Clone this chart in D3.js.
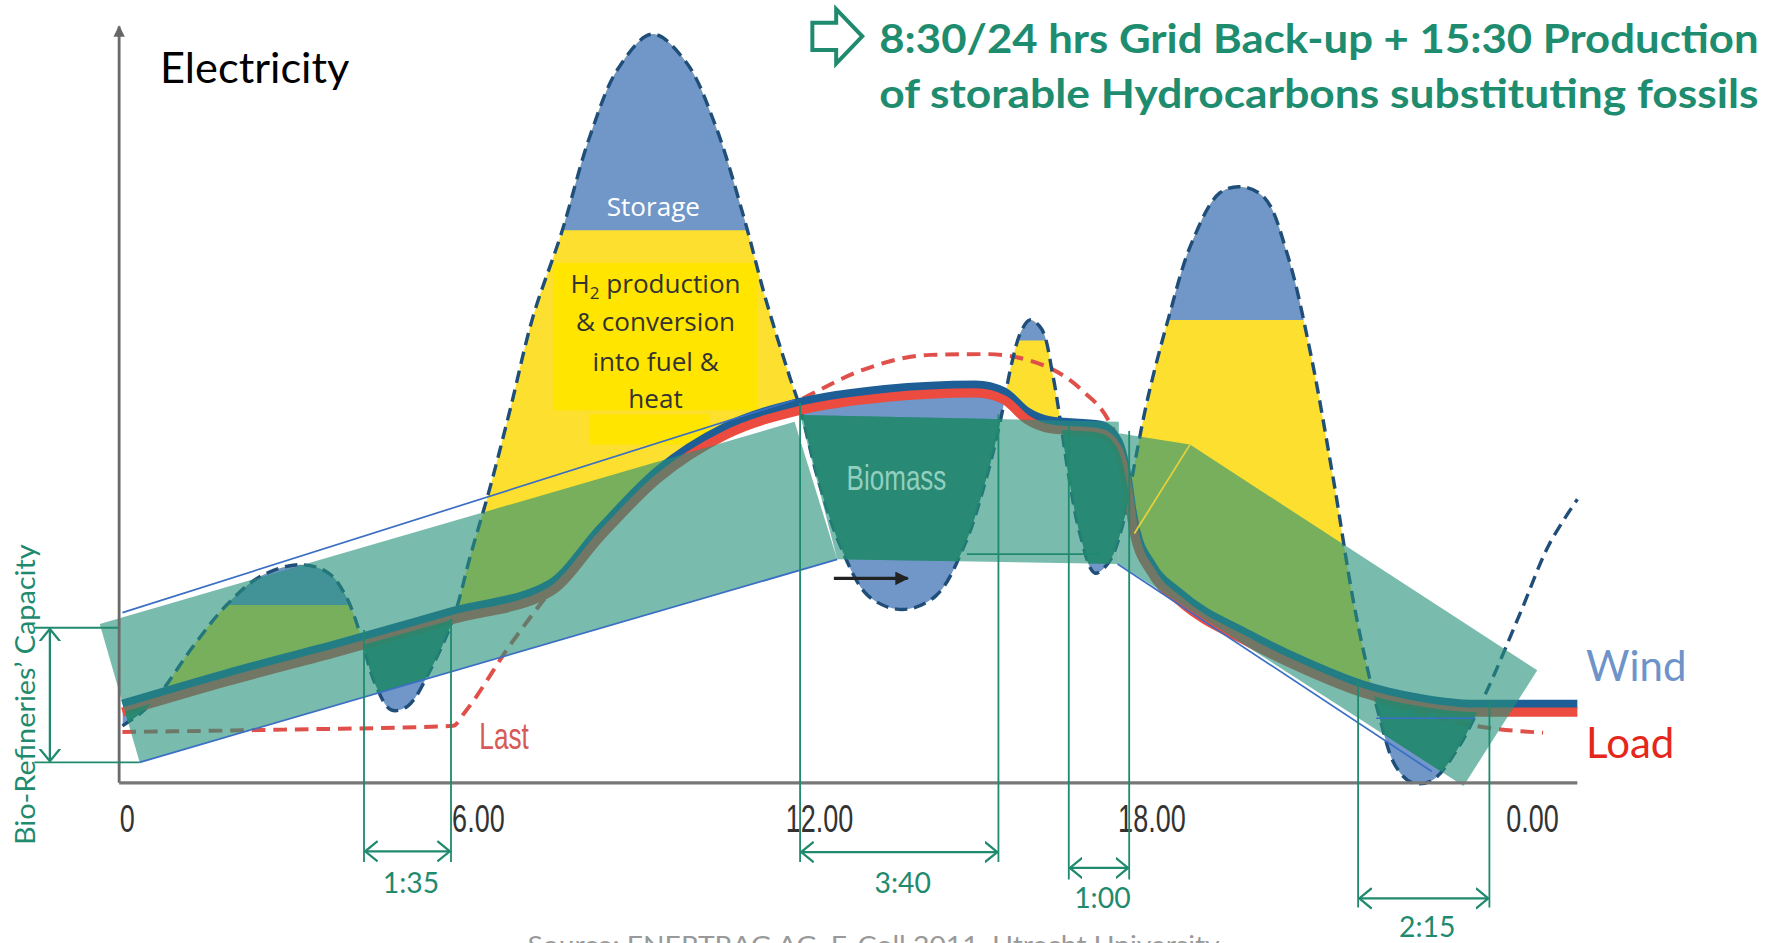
<!DOCTYPE html>
<html>
<head>
<meta charset="utf-8">
<script src="https://cdn.jsdelivr.net/npm/d3@7"></script>
<style>
  html, body { margin: 0; padding: 0; background: #fff; }
  svg { display: block; }
</style>
</head>
<body>
<div id="chart"></div>
<script>
// x = hour of the day, y = electricity level (0-100, arbitrary units)
const hourTicks = [0, 6, 12, 18, 24];
const tickLabels = ["0", "6.00", "12.00", "18.00", "0.00"];

// wind production (dashed curve)
const wind = [
  [0.06, 7.5], [0.41, 9.3], [0.72, 11.6], [1.33, 17.9], [1.94, 23.4], [2.56, 27.2],
  [3.27, 28.7], [3.78, 27.6], [4.09, 24.6], [4.36, 19.4], [4.60, 13.4], [4.91, 9.6],
  [5.21, 10.1], [5.62, 14.9], [6.03, 21.6], [6.34, 29.9], [6.69, 38.8], [7.06, 49.3],
  [7.46, 61.2], [7.98, 72.4], [8.49, 85.1], [9.00, 94.0], [9.61, 98.5], [10.22, 94.8],
  [10.74, 86.6], [11.25, 74.6], [11.66, 63.4], [12.07, 53.7], [12.27, 49.3], [12.58, 40.3],
  [12.99, 31.3], [13.50, 24.6], [14.11, 22.8], [14.72, 24.6], [15.24, 31.3], [15.64, 40.3],
  [15.89, 47.8], [16.09, 55.2], [16.26, 59.4], [16.42, 60.9], [16.63, 59.7], [16.83, 53.7],
  [16.97, 47.5], [17.12, 40.3], [17.32, 32.8], [17.59, 27.6], [17.85, 29.1], [18.09, 34.3],
  [18.26, 41.8], [18.47, 50.7], [18.79, 61.2], [19.14, 70.9], [19.58, 77.6], [19.93, 78.4],
  [20.28, 76.9], [20.63, 69.4], [20.98, 56.7], [21.33, 40.3], [21.68, 22.4], [22.04, 9.0],
  [22.30, 2.2], [22.56, 0.0], [22.86, 0.3], [23.26, 4.5], [23.70, 11.9], [24.23, 22.4],
  [24.67, 31.3], [25.11, 37.3]
];
// surplus is only shaded up to the last wind trough
const surplusEnd = 22.56;

// grid load (thick line)
const load = [
  [0.06, 9.3], [1.94, 13.3], [3.99, 17.3], [6.03, 21.5], [7.77, 25.1], [8.69, 32.5],
  [9.71, 40.0], [10.94, 45.8], [12.27, 49.0], [13.80, 50.7], [15.44, 51.3], [15.95, 50.4],
  [16.36, 47.8], [16.77, 46.6], [17.69, 46.0], [18.00, 44.0], [18.14, 39.6], [18.26, 32.8],
  [18.53, 27.6], [18.96, 23.9], [20.02, 18.5], [20.89, 14.9], [21.77, 11.9], [22.65, 10.1],
  [23.53, 9.3], [25.11, 9.3]
];

// "Last" (dashed red)
const last = [
  [0.06, 6.7], [2.97, 7.0], [6.03, 7.5], [6.24, 9.3], [7.06, 18.2], [7.77, 25.1],
  [8.69, 32.5], [9.71, 40.0], [10.94, 45.8], [12.27, 50.4], [13.39, 54.3], [14.62, 56.3],
  [15.64, 56.4], [16.67, 54.9], [17.38, 51.5], [17.85, 47.5], [18.14, 41.8], [18.30, 34.3],
  [18.53, 27.6], [18.96, 23.9], [20.02, 18.5], [20.89, 14.9], [21.77, 11.6], [22.65, 9.3],
  [23.53, 7.5], [24.58, 6.6]
];

// storage share of each surplus peak (above level)
const storageCaps = [
  { from: 0.72, to: 4.40, level: 23.4 },
  { from: 6.03, to: 12.37, level: 72.7 },
  { from: 15.95, to: 17.08, level: 58.2 },
  { from: 18.35, to: 21.51, level: 60.9 }
];

// bio-refineries' capacity bands
const bioBands = [
  [[-0.35, 20.9], [12.17, 47.5], [12.94, 29.4], [0.37, 2.7]],
  [[12.27, 48.4], [18.02, 47.5], [18.02, 28.8], [12.94, 29.4]],
  [[18.02, 46.0], [19.12, 44.5], [24.49, 14.8], [23.35, -0.4], [18.02, 28.8]]
];

// thin outline strokes
const outlines = [
  { pts: [[0.06, 22.4], [12.17, 50.4]], color: "#3a6fc4" },
  { pts: [[0.37, 2.7], [12.94, 29.4]], color: "#3a6fc4" },
  { pts: [[18.0, 28.8], [22.86, 1.5]], color: "#3a6fc4" },
  { pts: [[22.0, 8.5], [23.53, 8.5]], color: "#3a6fc4" },
  { pts: [[15.28, 30.1], [17.69, 30.1]], color: "#1f8a6e" },
  { pts: [[18.26, 32.8], [19.12, 44.5]], color: "#e8d23a" }
];

// grid back-up gaps
const gaps = [
  { label: "1:35", from: 4.42, to: 5.99, tops: [20.1, 21.6], bottom: -10.4, arrow: -9.0, text: -14.5 },
  { label: "3:40", from: 12.27, to: 15.85, tops: [50.0, 48.5], bottom: -10.4, arrow: -9.1, text: -14.5 },
  { label: "1:00", from: 17.12, to: 18.18, tops: [47.0, 46.3], bottom: -12.7, arrow: -11.2, text: -16.4 },
  { label: "2:15", from: 21.72, to: 23.75, tops: [13.4, 10.7], bottom: -16.4, arrow: -15.2, text: -20.3 }
];

const capacity = { x: -1.25, top: 20.4, bottom: 2.7, from: -1.53, toTop: -0.02, toBottom: 0.37, labelX: -1.70 };

const W = 1779, H = 943;
const k = W / 1568;
const green = "#1f8a6e";
const narrow = "'Liberation Sans', Arial, sans-serif";

const x = d3.scaleLinear().domain(hourTicks).range([105, 398, 692, 985, 1327]);
const y = d3.scaleLinear().domain([0, 100]).range([690, 20]);

const svg = d3.select("#chart").append("svg").attr("width", W).attr("height", H);
const defs = svg.append("defs");
const g = svg.append("g").attr("transform", `scale(${k})`);

g.append("rect").attr("width", 1568).attr("height", 831).attr("fill", "#fff");

const px = d => x(d[0]), py = d => y(d[1]);
const windCurve = d3.curveCatmullRom.alpha(0.5);
const windLine = d3.line().x(px).y(py).curve(windCurve);
const windUnder = d3.area().x(px).y0(y(0)).y1(py).curve(windCurve);
const windOver = d3.area().x(px).y0(y(140)).y1(py).curve(windCurve);
const smoothLine = d3.line().x(px).y(py).curve(d3.curveMonotoneX);

// markers
defs.append("marker").attr("id", "chev").attr("viewBox", "0 0 12 20")
  .attr("refX", 11).attr("refY", 10).attr("markerWidth", 12).attr("markerHeight", 20)
  .attr("markerUnits", "userSpaceOnUse").attr("orient", "auto-start-reverse")
  .append("path").attr("d", "M0,1 L11,10 L0,19").attr("fill", "none")
  .attr("stroke", green).attr("stroke-width", 2);
defs.append("marker").attr("id", "tri").attr("viewBox", "0 0 10 10")
  .attr("refX", 9).attr("refY", 5).attr("markerWidth", 14).attr("markerHeight", 12)
  .attr("markerUnits", "userSpaceOnUse").attr("orient", "auto")
  .append("path").attr("d", "M0,0 L10,5 L0,10 Z").attr("fill", "#222");
defs.append("marker").attr("id", "axisTip").attr("viewBox", "0 0 10 10")
  .attr("refX", 9).attr("refY", 5).attr("markerWidth", 16).attr("markerHeight", 10)
  .attr("markerUnits", "userSpaceOnUse").attr("orient", "auto")
  .append("path").attr("d", "M0,0 L10,5 L0,10 Z").attr("fill", "#666");

// clips
defs.append("clipPath").attr("id", "aboveLoad").append("path")
  .attr("d", d3.area().x(px).y0(y(140)).y1(py).curve(d3.curveMonotoneX)(load));
defs.append("clipPath").attr("id", "belowLoad").append("path")
  .attr("d", d3.area().x(px).y0(py).y1(y(-40)).curve(d3.curveMonotoneX)(load));
defs.append("clipPath").attr("id", "surplusSpan").append("rect")
  .attr("x", 0).attr("y", 0).attr("width", x(surplusEnd)).attr("height", 831);
const bandClip = defs.append("clipPath").attr("id", "bandClip");
bioBands.forEach(b => bandClip.append("path").attr("d", d3.line()(b.map(d => [px(d), py(d)])) + "Z"));
storageCaps.forEach((c, i) => {
  defs.append("clipPath").attr("id", "cap" + i).append("rect")
    .attr("x", x(c.from)).attr("width", x(c.to) - x(c.from))
    .attr("y", y(140)).attr("height", y(c.level) - y(140));
});

// surplus wind -> H2 (yellow) and storage (blue)
g.append("g").attr("clip-path", "url(#surplusSpan)")
  .append("g").attr("clip-path", "url(#aboveLoad)")
  .append("path").attr("d", windUnder(wind)).attr("fill", "#fde02f");
storageCaps.forEach((c, i) => {
  g.append("path").attr("d", windUnder(wind)).attr("clip-path", `url(#cap${i})`).attr("fill", "#7097c8");
});
// deficit
g.append("g").attr("clip-path", "url(#belowLoad)")
  .append("path").attr("d", windOver(wind)).attr("fill", "#7097c8");

// H2 label box
g.append("rect").attr("x", x(7.83)).attr("y", y(68.4))
  .attr("width", x(11.51) - x(7.83)).attr("height", y(49.0) - y(68.4)).attr("fill", "#ffe500");
g.append("rect").attr("x", x(8.49)).attr("y", y(48.5))
  .attr("width", x(10.63) - x(8.49)).attr("height", y(44.5) - y(48.5)).attr("fill", "#ffe500");

// lines
g.append("path").attr("d", smoothLine(last)).attr("fill", "none")
  .attr("stroke", "#e0504a").attr("stroke-width", 3.5).attr("stroke-dasharray", "12,7");
g.append("path").attr("d", windLine(wind)).attr("fill", "none")
  .attr("stroke", "#1f4e79").attr("stroke-width", 3).attr("stroke-dasharray", "11,6");
g.append("path").attr("d", smoothLine(load)).attr("fill", "none")
  .attr("transform", "translate(0,-7)")
  .attr("stroke", "#1d5e96").attr("stroke-width", 8);
g.append("path").attr("d", smoothLine(load)).attr("fill", "none")
  .attr("stroke", "#ec4b40").attr("stroke-width", 8);

// capacity bands
g.append("g").selectAll("path").data(bioBands).join("path")
  .attr("d", b => d3.line()(b.map(d => [px(d), py(d)])) + "Z")
  .attr("fill", "#26917a").attr("fill-opacity", 0.62);

// biomass fill where wind is short inside the bands
g.append("g").attr("clip-path", "url(#bandClip)")
  .append("g").attr("clip-path", "url(#belowLoad)")
  .append("path").attr("d", windOver(wind)).attr("fill", "#23876d").attr("fill-opacity", 0.85);

// outlines
g.append("g").selectAll("line").data(outlines).join("line")
  .attr("x1", d => px(d.pts[0])).attr("y1", d => py(d.pts[0]))
  .attr("x2", d => px(d.pts[1])).attr("y2", d => py(d.pts[1]))
  .attr("stroke", d => d.color).attr("stroke-width", 1.5);

// biomass arrow
g.append("line").attr("x1", x(12.88)).attr("x2", x(14.21)).attr("y1", y(26.9)).attr("y2", y(26.9))
  .attr("stroke", "#222").attr("stroke-width", 3).attr("marker-end", "url(#tri)");

// axes
g.append("line").attr("x1", x(0)).attr("x2", x(0)).attr("y1", y(0)).attr("y2", y(99.5))
  .attr("stroke", "#6b6b6b").attr("stroke-width", 2.5).attr("marker-end", "url(#axisTip)");
g.append("line").attr("x1", x(0)).attr("x2", x(25.11)).attr("y1", y(0)).attr("y2", y(0))
  .attr("stroke", "#777").attr("stroke-width", 3);

const xAxis = g.append("g").attr("transform", `translate(0,${y(0)})`)
  .call(d3.axisBottom(x).tickValues(hourTicks).tickSize(0).tickFormat((d, i) => tickLabels[i]));
xAxis.select(".domain").remove();
xAxis.selectAll("text")
  .attr("text-anchor", "start").attr("y", 19)
  .attr("transform", "scale(0.7,1)")
  .attr("fill", "#333")
  .style("font-family", narrow)
  .style("font-size", "34px");

// gap dimensions
const gg = g.append("g").selectAll("g").data(gaps).join("g");
gg.append("line").attr("x1", d => x(d.from)).attr("x2", d => x(d.from))
  .attr("y1", d => y(d.tops[0])).attr("y2", d => y(d.bottom))
  .attr("stroke", green).attr("stroke-width", 1.6);
gg.append("line").attr("x1", d => x(d.to)).attr("x2", d => x(d.to))
  .attr("y1", d => y(d.tops[1])).attr("y2", d => y(d.bottom))
  .attr("stroke", green).attr("stroke-width", 1.6);
gg.append("line").attr("x1", d => x(d.from) + 1).attr("x2", d => x(d.to) - 1)
  .attr("y1", d => y(d.arrow)).attr("y2", d => y(d.arrow))
  .attr("stroke", green).attr("stroke-width", 2)
  .attr("marker-start", "url(#chev)").attr("marker-end", "url(#chev)");
gg.append("text").attr("x", d => (x(d.from) + x(d.to)) / 2 + 3).attr("y", d => y(d.text))
  .attr("text-anchor", "middle").attr("fill", green)
  .style("font-family", "Lato, sans-serif").style("font-size", "25px")
  .text(d => d.label);

// capacity dimension
g.append("line").attr("x1", x(capacity.from)).attr("x2", x(capacity.toTop))
  .attr("y1", y(capacity.top)).attr("y2", y(capacity.top)).attr("stroke", green).attr("stroke-width", 1.6);
g.append("line").attr("x1", x(capacity.from)).attr("x2", x(capacity.toBottom))
  .attr("y1", y(capacity.bottom)).attr("y2", y(capacity.bottom)).attr("stroke", green).attr("stroke-width", 1.6);
g.append("line").attr("x1", x(capacity.x)).attr("x2", x(capacity.x))
  .attr("y1", y(capacity.top) + 1).attr("y2", y(capacity.bottom) - 1)
  .attr("stroke", green).attr("stroke-width", 2)
  .attr("marker-start", "url(#chev)").attr("marker-end", "url(#chev)");
g.append("text")
  .attr("transform", `translate(${x(capacity.labelX) + 9},${y(11.6)}) rotate(-90)`)
  .attr("text-anchor", "middle").attr("fill", green)
  .attr("textLength", 265).attr("lengthAdjust", "spacingAndGlyphs")
  .style("font-family", "Lato, sans-serif").style("font-size", "24px")
  .text("Bio-Refineries\u2019 Capacity");

// in-chart labels
g.append("text").attr("x", x(9.63)).attr("y", y(74.6)).attr("text-anchor", "middle")
  .attr("fill", "#fff").style("font-family", "'Open Sans', sans-serif").style("font-size", "23px")
  .text("Storage");
const h2 = g.append("text").attr("text-anchor", "middle").attr("fill", "#333")
  .style("font-family", "'Open Sans', sans-serif").style("font-size", "23px");
const h2First = h2.append("tspan").attr("x", x(9.67)).attr("y", y(64.5));
h2First.append("tspan").text("H");
h2First.append("tspan").attr("dy", 6).style("font-size", "15px").text("2");
h2First.append("tspan").attr("dy", -6).text(" production");
[["& conversion", 59.4], ["into fuel &", 54.2], ["heat", 49.3]].forEach(([t, v]) => {
  h2.append("tspan").attr("x", x(9.67)).attr("y", y(v)).text(t);
});
g.append("text").attr("transform", `translate(${x(14.01)},${y(38.5)}) scale(0.74,1)`)
  .attr("text-anchor", "middle")
  .attr("fill", "#93cfbf").style("font-family", narrow)
  .style("font-size", "31px").text("Biomass");
g.append("text").attr("transform", `translate(${x(6.50)},${y(4.5)}) scale(0.7,1)`)
  .attr("fill", "#d65a55").style("font-family", narrow)
  .style("font-size", "33px").text("Last");

// legend labels
g.append("text").attr("x", 1398).attr("y", 600).attr("fill", "#6e93c9")
  .style("font-family", "Lato, sans-serif").style("font-size", "37px").text("Wind");
g.append("text").attr("x", 1398).attr("y", 668).attr("fill", "#e5261b")
  .style("font-family", "Lato, sans-serif").style("font-size", "37px").text("Load");

// titles
g.append("text").attr("x", 141).attr("y", 73).attr("fill", "#000")
  .attr("textLength", 167).attr("lengthAdjust", "spacingAndGlyphs")
  .style("font-family", "Lato, sans-serif").style("font-size", "38px").text("Electricity");
g.append("path").attr("d", "M716,20 L737,20 L737,8 L760,32 L737,56 L737,44 L716,44 Z")
  .attr("fill", "none").attr("stroke", green).attr("stroke-width", 3.5);
g.append("text").attr("x", 775).attr("y", 47).attr("fill", "#1e8c6f")
  .attr("textLength", 775).attr("lengthAdjust", "spacingAndGlyphs")
  .style("font-family", "Lato, sans-serif").style("font-weight", "bold").style("font-size", "36px")
  .text("8:30/24 hrs Grid Back-up + 15:30 Production");
g.append("text").attr("x", 775).attr("y", 95).attr("fill", "#1e8c6f")
  .attr("textLength", 775).attr("lengthAdjust", "spacingAndGlyphs")
  .style("font-family", "Lato, sans-serif").style("font-weight", "bold").style("font-size", "36px")
  .text("of storable Hydrocarbons substituting fossils");

// source (cut at the bottom edge, as in the original slide)
g.append("text").attr("x", 465).attr("y", 841).attr("fill", "#999")
  .attr("textLength", 610).attr("lengthAdjust", "spacingAndGlyphs")
  .style("font-family", "Lato, sans-serif").style("font-size", "22px")
  .text("Source: ENERTRAG AG, F. Coll 2011, Utrecht University");
</script>
</body>
</html>
